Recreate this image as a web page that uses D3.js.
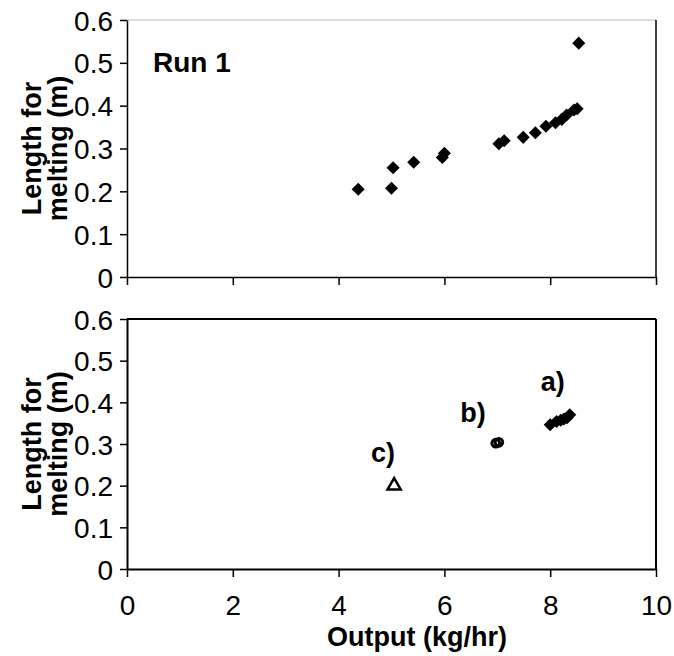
<!DOCTYPE html>
<html>
<head>
<meta charset="utf-8">
<script src="https://d3js.org/d3.v7.min.js"></script>
<style>
  body { margin: 0; background: #fff; }
  text { font-family: "Liberation Sans", Arial, sans-serif; fill: #000; }
</style>
</head>
<body>
<div id="chart"></div>
<script>
// Run 1 data (output kg/hr, length for melting m)
const run1Output = [4.37, 5.00, 5.03, 5.42, 5.96, 6.00, 7.03, 7.13, 7.49, 7.72, 7.92, 8.10, 8.22, 8.31, 8.45, 8.51, 8.54];
const run1Length = [0.205, 0.207, 0.255, 0.268, 0.279, 0.289, 0.311, 0.318, 0.326, 0.337, 0.352, 0.360, 0.368, 0.378, 0.390, 0.393, 0.546];

// bottom panel groups
const aOutput = [8.00, 8.12, 8.20, 8.26, 8.32, 8.37];
const aLength = [0.346, 0.354, 0.357, 0.360, 0.363, 0.370];
const bOutput = [6.97, 7.03];
const bLength = [0.302, 0.304];
const cOutput = [5.05];
const cLength = [0.200];

const groupLabels = [
  {text: "a)", x: 8.05, y: 0.45},
  {text: "b)", x: 6.54, y: 0.375},
  {text: "c)", x: 4.84, y: 0.279}
];

const xTicks = [0, 2, 4, 6, 8, 10];
const yTicks = [0, 0.1, 0.2, 0.3, 0.4, 0.5, 0.6];

const W = 674, H = 656;
const svg = d3.select("#chart").append("svg")
    .attr("width", W)
    .attr("height", H);

svg.append("rect").attr("width", W).attr("height", H).attr("fill", "#fff");

const x = d3.scaleLinear().domain([0, 10]).range([127, 656]);
const yTop = d3.scaleLinear().domain([0, 0.6]).range([277, 20]);
const yBot = d3.scaleLinear().domain([0, 0.6]).range([569, 319]);

const fontSize = 28;

function drawPanel(y, lw, showXLabels) {
    const g = svg.append("g");

    // frame
    g.append("line")
        .attr("x1", x(0)).attr("x2", x(10))
        .attr("y1", y(0.6)).attr("y2", y(0.6))
        .attr("stroke", showXLabels ? "#000" : "#bbb")
        .attr("stroke-width", showXLabels ? lw : 1);
    g.append("line")
        .attr("x1", x(10)).attr("x2", x(10))
        .attr("y1", y(0.6)).attr("y2", y(0))
        .attr("stroke", "#000").attr("stroke-width", lw);

    const yAxis = g.append("g")
        .attr("transform", `translate(${x(0)},0)`)
        .call(d3.axisLeft(y).tickValues(yTicks).tickSize(7).tickSizeOuter(0)
            .tickFormat(d => d === 0 ? "0" : d3.format(".1f")(d)));
    yAxis.select(".domain").attr("stroke-width", lw);
    yAxis.selectAll(".tick line").attr("stroke-width", 1.5);
    yAxis.selectAll("text")
        .attr("font-size", fontSize)
        .attr("font-family", "Liberation Sans, Arial, sans-serif")
        .attr("x", -14)
        .attr("dy", "0.36em");

    const xAxis = g.append("g")
        .attr("transform", `translate(0,${y(0)})`)
        .call(d3.axisBottom(x).tickValues(xTicks).tickSize(8).tickSizeOuter(0));
    xAxis.select(".domain").attr("stroke-width", lw);
    xAxis.selectAll(".tick line").attr("stroke-width", 1.5);
    xAxis.selectAll("text")
        .attr("font-size", fontSize)
        .attr("font-family", "Liberation Sans, Arial, sans-serif")
        .attr("dy", "1.25em")
        .attr("opacity", showXLabels ? 1 : 0);

    // y axis title in two lines
    const cy = (y(0) + y(0.6)) / 2;
    [["Length for", 31], ["melting (m)", 57]].forEach(([t, cx]) => {
        g.append("text")
            .attr("transform", `translate(${cx},${cy}) rotate(-90)`)
            .attr("text-anchor", "middle")
            .attr("font-size", fontSize - 1)
            .attr("font-weight", "bold")
            .attr("dy", "0.36em")
            .text(t);
    });
    return g;
}

const topPanel = drawPanel(yTop, 1.5, false);
const botPanel = drawPanel(yBot, 2, true);

// diamond markers
const diamond = d3.symbol(d3.symbolSquare, 85)();

topPanel.selectAll(".pt")
    .data(run1Output.map((v, i) => [v, run1Length[i]]))
    .enter().append("path")
      .attr("d", diamond)
      .attr("transform", d => `translate(${x(d[0])},${yTop(d[1])}) rotate(45)`)
      .attr("fill", "#000");

topPanel.append("text")
    .attr("x", 153).attr("y", 72)
    .attr("font-size", fontSize)
    .attr("font-weight", "bold")
    .text("Run 1");

botPanel.selectAll(".pa")
    .data(aOutput.map((v, i) => [v, aLength[i]]))
    .enter().append("path")
      .attr("d", diamond)
      .attr("transform", d => `translate(${x(d[0])},${yBot(d[1])}) rotate(45)`)
      .attr("fill", "#000");

botPanel.selectAll(".pb")
    .data(bOutput.map((v, i) => [v, bLength[i]]))
    .enter().append("circle")
      .attr("cx", d => x(d[0]))
      .attr("cy", d => yBot(d[1]))
      .attr("r", 3.8)
      .attr("fill", "none")
      .attr("stroke", "#000")
      .attr("stroke-width", 3);

const tri = d3.symbol(d3.symbolTriangle, 75)();
botPanel.selectAll(".pc")
    .data(cOutput.map((v, i) => [v, cLength[i]]))
    .enter().append("path")
      .attr("d", tri)
      .attr("transform", d => `translate(${x(d[0])},${yBot(d[1])})`)
      .attr("fill", "none")
      .attr("stroke", "#000")
      .attr("stroke-width", 2.5);

botPanel.selectAll(".glabel")
    .data(groupLabels)
    .enter().append("text")
      .attr("x", d => x(d.x))
      .attr("y", d => yBot(d.y))
      .attr("text-anchor", "middle")
      .attr("dy", "0.36em")
      .attr("font-size", fontSize - 1)
      .attr("font-weight", "bold")
      .text(d => d.text);

svg.append("text")
    .attr("x", 417)
    .attr("y", 646)
    .attr("text-anchor", "middle")
    .attr("font-size", fontSize - 1)
    .attr("font-weight", "bold")
    .text("Output (kg/hr)");
</script>
</body>
</html>
